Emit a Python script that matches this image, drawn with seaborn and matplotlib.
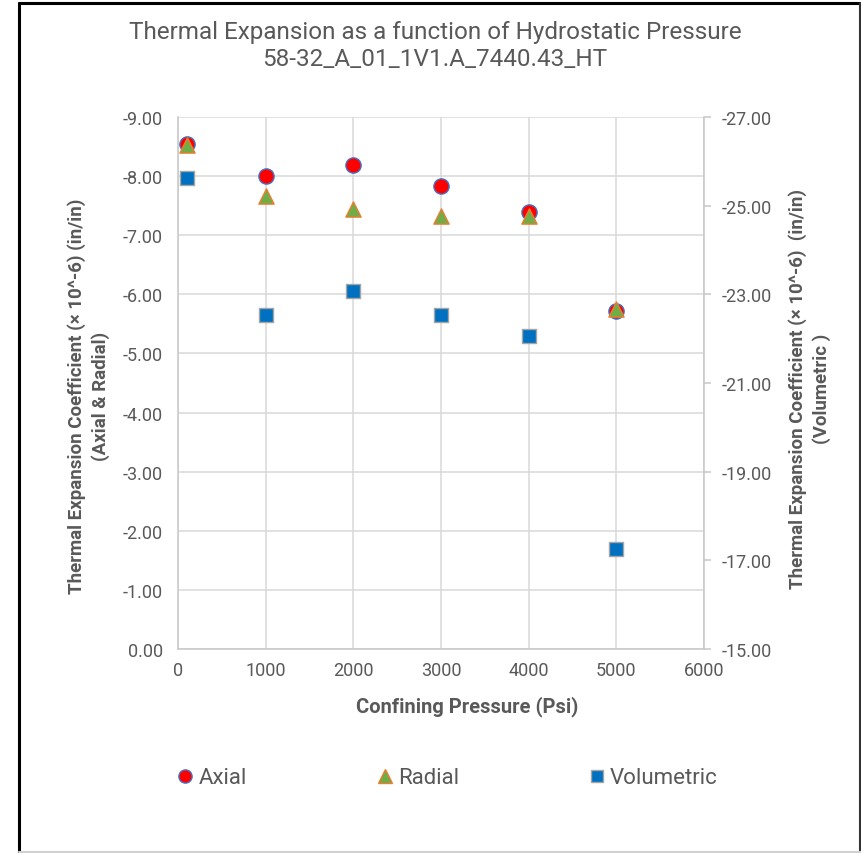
import numpy as np
import matplotlib
matplotlib.use("Agg")
import matplotlib.pyplot as plt
import seaborn as sns
from matplotlib.lines import Line2D

# Confining pressure (psi) and thermal expansion coefficients (x 10^-6 in/in)
pressure = [100, 1000, 2000, 3000, 4000, 5000]
axial = [-8.55, -8.00, -8.19, -7.84, -7.39, -5.71]
radial = [-8.52, -7.66, -7.44, -7.33, -7.33, -5.75]
volumetric = [-25.62, -22.54, -23.08, -22.54, -22.06, -17.25]

x_ticks = [0, 1000, 2000, 3000, 4000, 5000, 6000]
left_ticks = [0, -1, -2, -3, -4, -5, -6, -7, -8, -9]
right_ticks = [-15, -17, -19, -21, -23, -25, -27]

title_lines = ["Thermal Expansion as a function of Hydrostatic Pressure",
               "58-32_A_01_1V1.A_7440.43_HT"]
x_label = "Confining Pressure (Psi)"
left_label = "Thermal Expansion Coefficient (\u00d7 10^-6) (in/in)\n(Axial & Radial)"
right_label = "Thermal Expansion Coefficient (\u00d7 10^-6)  (in/in)\n(Volumetric )"

sns.set_theme(style="white")
plt.rcParams["font.family"] = ["Roboto", "DejaVu Sans"]

TEXT = "#595959"
GRID = "#D9D9D9"
SPINE = "#C8C8C8"

W, H = 861, 854
fig = plt.figure(figsize=(W / 100, H / 100), dpi=100)
fig.patch.set_facecolor("white")

L, R, T, B = 178, 704, 118, 650
ax = fig.add_axes([L / W, 1 - B / H, (R - L) / W, (B - T) / H])
ax2 = ax.twinx()

ax.set_xlim(0, 6000)
ax.set_ylim(0, -9)
ax2.set_ylim(-15, -27)

ax.set_xticks(x_ticks)
ax.set_xticklabels([f"{v}" for v in x_ticks])
ax.set_yticks(left_ticks)
ax.set_yticklabels([f"{v:.2f}" if v != 0 else "0.00" for v in left_ticks])
ax2.set_yticks(right_ticks)
ax2.set_yticklabels([f"{v:.2f}" for v in right_ticks])

ax.grid(True, color=GRID, linewidth=1.1)
ax.set_axisbelow(True)
ax2.grid(False)

for a in (ax, ax2):
    for s in a.spines.values():
        s.set_visible(False)
ax.spines["left"].set_visible(True)
ax.spines["left"].set_color(SPINE)
ax.spines["bottom"].set_visible(True)
ax.spines["bottom"].set_color(SPINE)
ax2.spines["right"].set_visible(True)
ax2.spines["right"].set_color(SPINE)
for s in (ax.spines["left"], ax.spines["bottom"], ax2.spines["right"]):
    s.set_linewidth(1.1)

TICK_FS = 13
ax.tick_params(axis="x", length=0, labelsize=TICK_FS, labelcolor=TEXT, pad=9)
ax.tick_params(axis="y", length=0, labelsize=TICK_FS, labelcolor=TEXT, pad=11)
ax2.tick_params(axis="y", length=5, width=1.1, color=SPINE, labelsize=TICK_FS,
                labelcolor=TEXT, pad=8)

ms = 120
sns.scatterplot(x=pressure, y=axial, ax=ax, marker="o", s=ms, color="#FF0000",
                edgecolor="#4472C4", linewidth=1.0, zorder=3, legend=False)
sns.scatterplot(x=pressure, y=radial, ax=ax, marker="^", s=ms, color="#70AD47",
                edgecolor="#ED7D31", linewidth=1.0, zorder=4, legend=False)
sns.scatterplot(x=pressure, y=volumetric, ax=ax2, marker="s", s=ms * 0.95,
                color="#0070C0", edgecolor="#A5A5A5", linewidth=1.0, zorder=3,
                legend=False)

ax.set_xlabel("")
ax.set_ylabel("")
ax2.set_ylabel("")

# Titles and axis labels
fig.text(435 / W, 1 - 32 / H, title_lines[0], ha="center", va="center",
         fontsize=17.5, color=TEXT)
fig.text(435 / W, 1 - 60 / H, title_lines[1], ha="center", va="center",
         fontsize=17.5, color=TEXT)
fig.text(467 / W, 1 - 707 / H, x_label, ha="center", va="center",
         fontsize=14.5, fontweight="bold", color=TEXT)
fig.text(88.5 / W, 1 - 396 / H, left_label, ha="center", va="center",
         rotation=90, fontsize=13.5, fontweight="bold", color=TEXT,
         multialignment="center", linespacing=1.4)
fig.text(810 / W, 1 - 389 / H, right_label, ha="center", va="center",
         rotation=90, fontsize=13.5, fontweight="bold", color=TEXT,
         multialignment="center", linespacing=1.35)

# Legend
handles = [
    Line2D([], [], linestyle="none", marker="o", markersize=9.5,
           markerfacecolor="#FF0000", markeredgecolor="#4472C4"),
    Line2D([], [], linestyle="none", marker="^", markersize=9.5,
           markerfacecolor="#70AD47", markeredgecolor="#ED7D31"),
    Line2D([], [], linestyle="none", marker="s", markersize=9,
           markerfacecolor="#0070C0", markeredgecolor="#A5A5A5"),
]
leg = fig.legend(handles, ["Axial", "Radial", "Volumetric"], ncol=3,
                 loc="center", bbox_to_anchor=(447 / W, 1 - 779 / H),
                 frameon=False, fontsize=16, handlelength=0.8,
                 handletextpad=0.2, columnspacing=5.8)
for t in leg.get_texts():
    t.set_color(TEXT)

# Outer frame
fig.add_artist(Line2D([18.5 / W, 18.5 / W], [0, 1 - 3.5 / H], color="black",
                      linewidth=2.2, transform=fig.transFigure))
fig.add_artist(Line2D([18.5 / W, 1], [1 - 3.5 / H, 1 - 3.5 / H], color="black",
                      linewidth=2.2, transform=fig.transFigure))
fig.add_artist(Line2D([859.5 / W, 859.5 / W], [0, 1 - 3.5 / H], color="#333333",
                      linewidth=1.5, transform=fig.transFigure))
fig.add_artist(Line2D([18.5 / W, 1], [0.8 / H, 0.8 / H], color="#D0D0D0",
                      linewidth=1.5, transform=fig.transFigure))

fig.savefig("out.png", dpi=100)
